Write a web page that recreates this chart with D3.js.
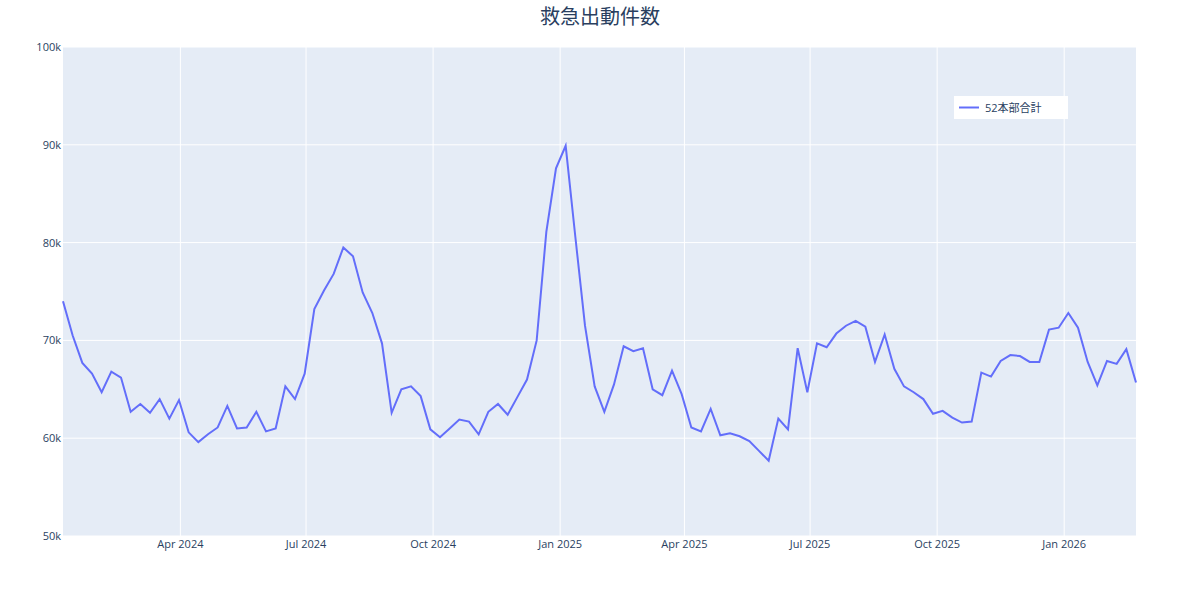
<!DOCTYPE html>
<html><head><meta charset="utf-8">
<script src="https://cdn.jsdelivr.net/npm/d3@7"></script>
<style>body{margin:0;background:#fff;font-family:"Open Sans","Noto Sans CJK JP",sans-serif}</style>
</head><body><svg id="c" width="1200" height="600"></svg>
<script>
const startDate = "2024-01-07";
const values = [74.0,70.5,67.7,66.6,64.7,66.8,66.2,62.7,63.5,62.6,64.0,62.0,63.9,60.6,59.6,60.4,61.1,63.3,61.0,61.1,62.7,60.7,61.0,65.3,64.0,66.6,73.2,75.1,76.8,79.5,78.6,74.9,72.8,69.7,62.6,65.0,65.3,64.3,60.9,60.1,61.0,61.9,61.7,60.4,62.7,63.5,62.4,64.2,66.0,70.0,81.1,87.6,89.9,80.6,71.5,65.3,62.7,65.5,69.4,68.9,69.2,65.0,64.4,66.9,64.5,61.1,60.7,63.0,60.3,60.5,60.2,59.7,58.7,57.7,62.0,60.9,69.2,64.7,69.7,69.3,70.7,71.5,72.0,71.4,67.8,70.6,67.1,65.3,64.7,64.0,62.5,62.8,62.1,61.6,61.7,66.7,66.3,67.9,68.5,68.4,67.8,67.8,71.1,71.3,72.8,71.3,67.8,65.4,67.9,67.6,69.1,65.7].map(v=>v*1000);
const yTicks = [50000,60000,70000,80000,90000,100000];
const xTicks = ["2024-04-01","2024-07-01","2024-10-01","2025-01-01","2025-04-01","2025-07-01","2025-10-01","2026-01-01"];
const seriesName = "52本部合計";
const title = "救急出動件数";

const p = d3.timeParse("%Y-%m-%d");
const t0 = p(startDate);
const data = values.map((v,i)=>({d:d3.timeDay.offset(t0,7*i),v}));
const svg = d3.select("#c");
const L=63,R=1136,T=47,B=536;
const x = d3.scaleTime().domain(d3.extent(data,d=>d.d)).range([L,R]);
const y = d3.scaleLinear().domain([50000,100000]).range([B,T]);
svg.append("rect").attr("x",L).attr("y",T).attr("width",R-L).attr("height",B-T).attr("fill","#e5ecf6");
const g = svg.append("g");
yTicks.forEach(t=>{
  g.append("line").attr("x1",L).attr("x2",R).attr("y1",y(t)).attr("y2",y(t)).attr("stroke","#fff").attr("stroke-width",1);
  g.append("text").attr("x",L-2).attr("y",y(t)+4).attr("text-anchor","end").attr("font-size",11).attr("fill","#2a3f5f").text(d3.format("~s")(t));
});
const fm = d3.timeFormat("%b %Y");
xTicks.forEach(s=>{const t=p(s);
  g.append("line").attr("x1",x(t)).attr("x2",x(t)).attr("y1",T).attr("y2",B).attr("stroke","#fff").attr("stroke-width",1);
  g.append("text").attr("x",x(t)).attr("y",B+12).attr("text-anchor","middle").attr("font-size",11).attr("fill","#2a3f5f").text(fm(t));
});
svg.append("path").datum(data).attr("fill","none").attr("stroke","#636efa").attr("stroke-width",2)
  .attr("d",d3.line().x(d=>x(d.d)).y(d=>y(d.v)));
svg.append("text").attr("x",600).attr("y",24).attr("text-anchor","middle").attr("font-size",20).attr("fill","#2a3f5f").text(title);
const lg = svg.append("g").attr("transform","translate(954,96)");
lg.append("rect").attr("width",114).attr("height",23).attr("fill","#fff");
lg.append("line").attr("x1",5).attr("x2",25).attr("y1",11.5).attr("y2",11.5).attr("stroke","#636efa").attr("stroke-width",2);
lg.append("text").attr("x",31).attr("y",15.5).attr("font-size",11).attr("fill","#2a3f5f").text(seriesName);
</script></body></html>
